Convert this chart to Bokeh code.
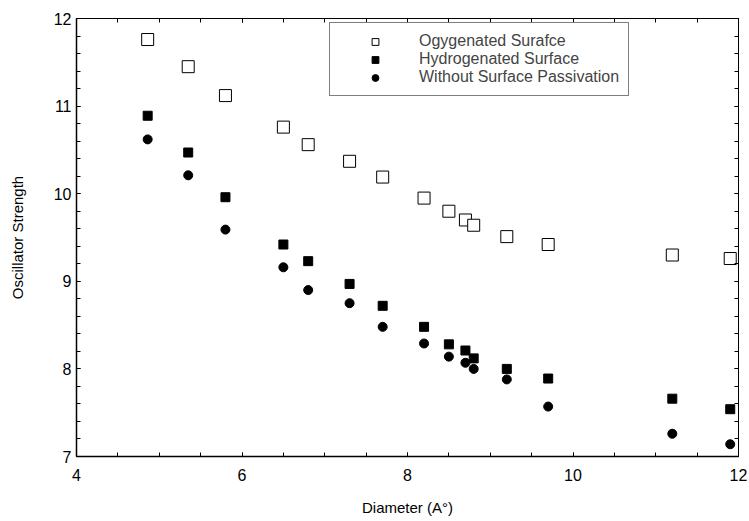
from bokeh.plotting import figure
from bokeh.models import LinearAxis, Legend, LegendItem, Range1d, FixedTicker
from bokeh.embed import file_html
from bokeh.resources import INLINE

diameter = [4.86, 5.35, 5.80, 6.50, 6.80, 7.30, 7.70, 8.20, 8.50, 8.70, 8.80, 9.20, 9.70, 11.20, 11.90]
oxygenated = [11.76, 11.45, 11.12, 10.76, 10.56, 10.37, 10.19, 9.95, 9.80, 9.70, 9.64, 9.51, 9.42, 9.30, 9.26]
hydrogenated = [10.89, 10.47, 9.96, 9.42, 9.23, 8.97, 8.72, 8.48, 8.28, 8.21, 8.12, 8.00, 7.89, 7.66, 7.54]
no_passivation = [10.62, 10.21, 9.59, 9.16, 8.90, 8.75, 8.48, 8.29, 8.14, 8.07, 8.00, 7.88, 7.57, 7.26, 7.14]

x_ticks = [4, 6, 8, 10, 12]
y_ticks = [7, 8, 9, 10, 11, 12]
x_minor = [4 + 0.5 * i for i in range(17)]
y_minor = [round(7 + 0.2 * i, 2) for i in range(26)]
labels = ["Ogygenated Surafce", "Hydrogenated Surface", "Without Surface Passivation"]

TICK_FONT = "Liberation Sans Narrow, Liberation Sans"

p = figure(width=749, height=521, output_backend="svg", toolbar_location=None,
           x_range=Range1d(4, 12), y_range=Range1d(7, 12),
           min_border_left=76, min_border_right=11, min_border_top=18, min_border_bottom=65,
           x_axis_label="Diameter (A°)", y_axis_label="Oscillator Strength")
p.grid.visible = False
p.outline_line_color = "black"
p.outline_line_width = 1
p.background_fill_color = "white"
p.border_fill_color = "white"

p.xaxis[0].ticker = FixedTicker(ticks=x_ticks, minor_ticks=x_minor)
p.yaxis[0].ticker = FixedTicker(ticks=y_ticks, minor_ticks=y_minor)
for ax in (p.xaxis[0], p.yaxis[0]):
    ax.major_tick_in = 4
    ax.major_tick_out = 0
    ax.minor_tick_in = 4
    ax.minor_tick_out = 0
    ax.axis_line_color = "black"
    ax.axis_line_width = 1.5
    ax.major_label_text_font = TICK_FONT
    ax.major_label_text_font_size = "16px"
    ax.major_label_text_color = "black"
    ax.axis_label_text_font = TICK_FONT
    ax.axis_label_text_font_size = "15px"
    ax.axis_label_text_font_style = "normal"
    ax.axis_label_text_color = "black"

p.xaxis[0].major_label_standoff = 12
p.xaxis[0].axis_label_standoff = 15
p.yaxis[0].major_label_standoff = 5
p.yaxis[0].axis_label_standoff = 25

top = LinearAxis(ticker=FixedTicker(ticks=x_ticks, minor_ticks=x_minor),
                 major_label_overrides={t: "" for t in x_ticks},
                 major_tick_in=4, major_tick_out=0,
                 minor_tick_in=4, minor_tick_out=0, major_label_standoff=0)
right = LinearAxis(ticker=FixedTicker(ticks=y_ticks, minor_ticks=y_minor),
                   major_label_overrides={t: "" for t in y_ticks},
                   major_tick_in=4, major_tick_out=0,
                   minor_tick_in=4, minor_tick_out=0, major_label_standoff=0)
p.add_layout(top, "above")
p.add_layout(right, "right")

r1 = p.scatter(diameter, oxygenated, marker="square", size=12, fill_color="white",
               line_color="black", line_width=1)
r2 = p.scatter(diameter, hydrogenated, marker="square", size=9, fill_color="black",
               line_color="black")
r3 = p.scatter(diameter, no_passivation, marker="circle", size=9, fill_color="black",
               line_color="black")

legend = Legend(items=[LegendItem(label=labels[0], renderers=[r1]),
                       LegendItem(label=labels[1], renderers=[r2]),
                       LegendItem(label=labels[2], renderers=[r3])],
                location=(253, 360), padding=9, spacing=0, margin=0,
                glyph_width=72, glyph_height=17, label_height=17, label_standoff=8,
                label_text_font="Liberation Sans", label_text_font_size="16px",
                label_text_line_height=1.0,
                border_line_color="black", border_line_width=1,
                background_fill_color="white", background_fill_alpha=1)
p.add_layout(legend, "center")

open("out.html", "w").write(file_html(p, INLINE))
